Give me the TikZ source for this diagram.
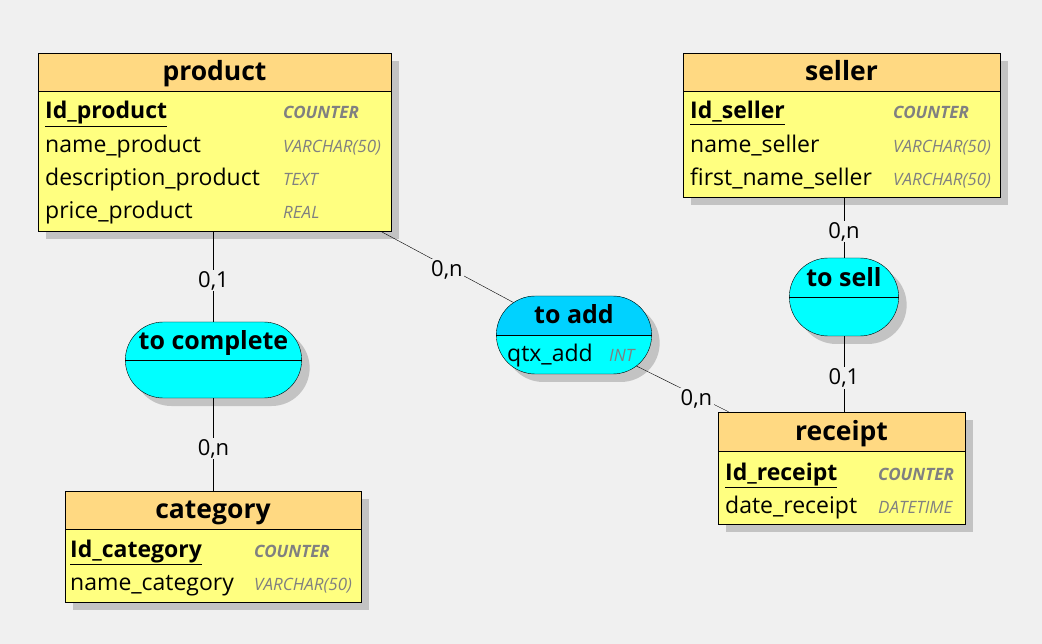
\documentclass[tikz,border=0pt]{standalone}
\usepackage{fontspec}
\setmainfont{Open Sans}
\usetikzlibrary{positioning,shapes.misc,shadows,calc}

\definecolor{bgcol}{HTML}{F0F0F0}
\definecolor{headcol}{HTML}{FFD982}
\definecolor{bodycol}{HTML}{FFFF80}
\definecolor{assoccol}{HTML}{00FFFF}
\definecolor{toaddcol}{HTML}{00D2FF}
\definecolor{shadowcol}{HTML}{C3C3C3}
\definecolor{typegray}{HTML}{808080}

\newcommand{\keyattr}[1]{\underline{\textbf{#1}}}
\newcommand{\keytype}[1]{\textbf{#1}}

\begin{document}
\begin{tikzpicture}[x=1pt,y=-1pt,
	myshadow/.style={drop shadow={shadow xshift=8pt,shadow yshift=-8pt,fill=shadowcol,opacity=1}},
	entity/.style={draw,fill=bodycol,myshadow},
	entityhead/.style={draw,fill=headcol,anchor=north,minimum height=38pt,
		text height=20pt,text depth=3pt,font=\fontsize{26.5}{28}\selectfont\bfseries},
	attr/.style={anchor=base west,inner sep=0pt,font=\fontsize{23}{26}\selectfont},
	atype/.style={anchor=base west,inner sep=0pt,text=typegray,font=\fontsize{17}{19}\selectfont\itshape},
	assoc/.style={rounded rectangle,draw,fill=assoccol,myshadow},
	assoctitle/.style={inner sep=0pt,text height=20pt,text depth=3pt,font=\fontsize{25}{27}\selectfont\bfseries},
	card/.style={fill=bgcol,inner sep=1.5pt,yshift=-4pt,font=\fontsize{22}{24}\selectfont}
	]
	
	% background
	\fill[bgcol] (0,0) rectangle (1042,644);
	\useasboundingbox (0,0) rectangle (1042,644);
	
	% the entity product
	\node[entity,minimum width=353pt,minimum height=178pt] (product) at (214.5,142) {};
	\node[entityhead,minimum width=353pt] (product-head) at (product.north) {product};
	\foreach \a/\t [count=\i] in {{\keyattr{Id\_product}}/{\keytype{COUNTER}},
		name\_product/VARCHAR(50),description\_product/TEXT,price\_product/REAL}{
		\node[attr] (product-a\i) at (45,{119+33.3*(\i-1)}) {\a};
		\node[atype] (product-t\i) at (283,{119+33.3*(\i-1)}) {\t};
	}
	
	% the entity seller
	\node[entity,minimum width=317pt,minimum height=144pt] (seller) at (841.5,125) {};
	\node[entityhead,minimum width=317pt] (seller-head) at (seller.north) {seller};
	\foreach \a/\t [count=\i] in {{\keyattr{Id\_seller}}/{\keytype{COUNTER}},
		name\_seller/VARCHAR(50),first\_name\_seller/VARCHAR(50)}{
		\node[attr] (seller-a\i) at (690,{119+33.3*(\i-1)}) {\a};
		\node[atype] (seller-t\i) at (893,{119+33.3*(\i-1)}) {\t};
	}
	
	% the entity category
	\node[entity,minimum width=296pt,minimum height=111pt] (category) at (213,546.5) {};
	\node[entityhead,minimum width=296pt] (category-head) at (category.north) {category};
	\foreach \a/\t [count=\i] in {{\keyattr{Id\_category}}/{\keytype{COUNTER}},
		name\_category/VARCHAR(50)}{
		\node[attr] (category-a\i) at (70,{557+33.3*(\i-1)}) {\a};
		\node[atype] (category-t\i) at (254,{557+33.3*(\i-1)}) {\t};
	}
	
	% the entity receipt
	\node[entity,minimum width=247pt,minimum height=112pt] (receipt) at (841.5,468) {};
	\node[entityhead,minimum width=247pt,minimum height=39pt] (receipt-head) at (receipt.north) {receipt};
	\foreach \a/\t [count=\i] in {{\keyattr{Id\_receipt}}/{\keytype{COUNTER}},
		date\_receipt/DATETIME}{
		\node[attr] (receipt-a\i) at (725,{480+33.3*(\i-1)}) {\a};
		\node[atype] (receipt-t\i) at (878,{480+33.3*(\i-1)}) {\t};
	}
	
	% the associations
	\node[assoc,minimum width=183pt,minimum height=76pt] (tocomplete) at (213.5,360) {};
	\draw (tocomplete.west) -- (tocomplete.east);
	\node[assoctitle] (tocomplete-title) at (213.5,341.5) {to complete};
	
	\node[assoc,minimum width=162pt,minimum height=78pt,
		path picture={\fill[toaddcol] (path picture bounding box.north west) rectangle (path picture bounding box.east);}]
		(toadd) at (574,335) {};
	\draw (toadd.west) -- (toadd.east);
	\node[assoctitle] (toadd-title) at (574,315) {to add};
	\node[attr] (toadd-a1) at (507,362) {qtx\_add};
	\node[atype] (toadd-t1) at (609,362) {INT};
	
	\node[assoc,minimum width=116pt,minimum height=78pt] (tosell) at (844,297) {};
	\draw (tosell.west) -- (tosell.east);
	\node[assoctitle] (tosell-title) at (844,278.5) {to sell};
	
	% the links
	\draw (product.south -| tocomplete.north) -- node[card]{0,1} (tocomplete.north);
	\draw (tocomplete.south) -- node[card]{0,n} (tocomplete.south |- category.north);
	\draw (product) -- node[card,yshift=1pt]{0,n} (toadd);
	\draw (toadd) -- node[card,pos=.65,yshift=1pt]{0,n} (receipt);
	\draw (seller.south -| tosell.north) -- node[card]{0,n} (tosell.north);
	\draw (tosell.south) -- node[card]{0,1} (tosell.south |- receipt.north);
\end{tikzpicture}
\end{document}
